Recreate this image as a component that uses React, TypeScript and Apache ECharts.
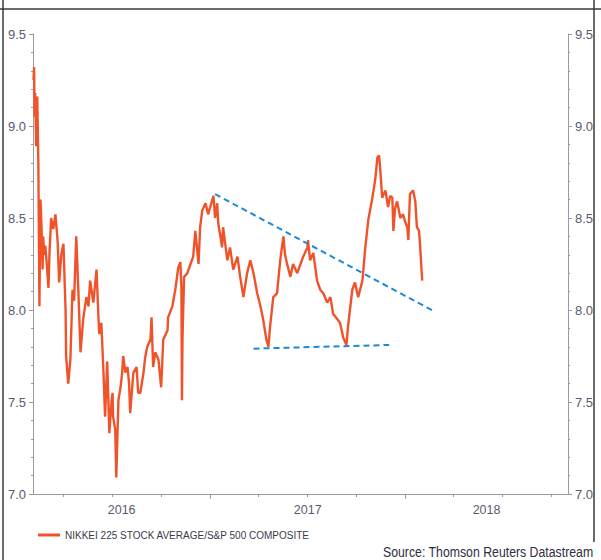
import React, { useEffect, useRef } from "react";
import * as echarts from "echarts";

const seriesName = "NIKKEI 225 STOCK AVERAGE/S&P 500 COMPOSITE";
const sourceText = "Source: Thomson Reuters Datastream";

const dates: string[] = [
  "2016-02-05","2016-02-06","2016-02-07","2016-02-08","2016-02-10","2016-02-12","2016-02-14","2016-02-16","2016-02-18","2016-02-20",
  "2016-02-22","2016-02-23","2016-02-25","2016-02-27","2016-02-29","2016-03-04","2016-03-06","2016-03-09","2016-03-13","2016-03-17",
  "2016-03-21","2016-03-24","2016-03-28","2016-04-01","2016-04-05","2016-04-06","2016-04-10","2016-04-14","2016-04-18","2016-04-21",
  "2016-04-25","2016-04-29","2016-05-03","2016-05-08","2016-05-14","2016-05-18","2016-05-21","2016-05-27","2016-06-02","2016-06-05",
  "2016-06-07","2016-06-11","2016-06-15","2016-06-18","2016-06-22","2016-06-26","2016-06-30","2016-07-02","2016-07-03","2016-07-07",
  "2016-07-09","2016-07-13","2016-07-17","2016-07-20","2016-07-22","2016-07-26","2016-07-30","2016-08-02","2016-08-04","2016-08-10",
  "2016-08-16","2016-08-19","2016-08-23","2016-08-29","2016-09-01","2016-09-05","2016-09-11","2016-09-13","2016-09-16","2016-09-20",
  "2016-09-26","2016-10-01","2016-10-05","2016-10-13","2016-10-14","2016-10-22","2016-10-28","2016-11-02","2016-11-06","2016-11-08",
  "2016-11-09","2016-11-10","2016-11-13","2016-11-19","2016-11-25","2016-11-30","2016-12-04","2016-12-10","2016-12-13","2016-12-17",
  "2016-12-23","2016-12-28","2017-01-01","2017-01-07","2017-01-10","2017-01-14","2017-01-16","2017-01-20","2017-01-23","2017-01-25",
  "2017-01-29","2017-02-02","2017-02-07","2017-02-13","2017-02-21","2017-02-26","2017-03-04","2017-03-11","2017-03-17","2017-03-23",
  "2017-03-30","2017-04-05","2017-04-10","2017-04-16","2017-04-20","2017-04-23","2017-04-29","2017-05-06","2017-05-12","2017-05-18",
  "2017-05-21","2017-05-25","2017-05-31","2017-06-05","2017-06-13","2017-06-19","2017-06-24","2017-07-02","2017-07-03","2017-07-07",
  "2017-07-13","2017-07-20","2017-07-26","2017-08-01","2017-08-08","2017-08-14","2017-08-19","2017-08-27","2017-09-01","2017-09-07",
  "2017-09-13","2017-09-16","2017-09-24","2017-09-29","2017-10-05","2017-10-13","2017-10-18","2017-10-24","2017-10-31","2017-11-06",
  "2017-11-10","2017-11-13","2017-11-15","2017-11-19","2017-11-25","2017-11-30","2017-12-04","2017-12-08","2017-12-10","2017-12-13",
  "2017-12-17","2017-12-23","2017-12-28","2018-01-01","2018-01-05","2018-01-07","2018-01-10","2018-01-16","2018-01-20","2018-01-23",
  "2018-01-27","2018-01-29","2018-01-31","2018-02-02"
];

const ratioValues: number[] = [
  9.25,9.32,9.05,9.18,8.89,9.16,8.80,8.02,8.60,8.45,
  8.22,8.40,8.30,8.35,8.28,8.12,8.32,8.50,8.44,8.52,
  8.38,8.15,8.30,8.36,8.00,7.75,7.60,7.73,8.11,8.05,
  8.40,8.10,7.77,7.95,8.07,8.02,8.16,8.04,8.22,8.00,
  7.87,7.93,7.66,7.42,7.72,7.33,7.50,7.55,7.42,7.35,
  7.09,7.51,7.58,7.66,7.75,7.66,7.69,7.60,7.44,7.66,
  7.69,7.55,7.55,7.66,7.74,7.80,7.84,7.96,7.69,7.77,
  7.73,7.58,7.84,7.89,7.96,8.02,8.12,8.23,8.26,8.12,
  7.51,7.85,8.18,8.20,8.25,8.29,8.43,8.25,8.45,8.54,
  8.58,8.52,8.56,8.62,8.50,8.58,8.47,8.40,8.34,8.45,
  8.36,8.27,8.34,8.22,8.29,8.18,8.07,8.20,8.27,8.20,
  8.09,8.02,7.95,7.84,7.80,7.91,8.07,8.09,8.27,8.40,
  8.30,8.25,8.18,8.25,8.20,8.25,8.29,8.34,8.38,8.27,
  8.31,8.16,8.11,8.09,8.04,8.07,7.98,7.95,7.93,7.85,
  7.81,7.91,8.11,8.15,8.07,8.16,8.33,8.49,8.60,8.71,
  8.83,8.84,8.78,8.61,8.65,8.56,8.62,8.61,8.43,8.55,
  8.59,8.50,8.52,8.48,8.45,8.38,8.63,8.65,8.59,8.45,
  8.43,8.35,8.25,8.16
];

const upperTrendDates: string[] = ["2017-01-10", "2018-02-26"];
const upperTrendValues: number[] = [8.63, 7.99];
const lowerTrendDates: string[] = ["2017-03-23", "2017-12-02"];
const lowerTrendValues: number[] = [7.79, 7.81];

const axisStart = "2016-02-04";
const axisEnd = "2018-11-02";
const yMin = 7.0;
const yMax = 9.5;
const yStep = 0.5;

const FONT = '"Liberation Sans", Arial, sans-serif';

function ts(s: string): number {
  const [y, m, d] = s.split("-").map(Number);
  return new Date(y, m - 1, d).getTime();
}

export default function App() {
  const ref = useRef<HTMLDivElement>(null);

  useEffect(() => {
    if (!ref.current) return;
    const chart = echarts.init(ref.current, undefined, { renderer: "svg" });

    const minT = ts(axisStart);
    const maxT = ts(axisEnd);
    const quarterTicks: number[] = [];
    const yearTicks: number[] = [];
    const labelPos: number[] = [];
    for (let y = 2016; y <= 2018; y++) {
      for (let q = 0; q < 4; q++) {
        const t = new Date(y, q * 3, 1).getTime();
        if (t > minT && t < maxT) quarterTicks.push(t);
        if (q === 0 && t > minT && t < maxT) yearTicks.push(t);
      }
      const ys = Math.max(new Date(y, 0, 1).getTime(), minT);
      const ye = Math.min(new Date(y + 1, 0, 1).getTime(), maxT);
      labelPos.push((ys + ye) / 2);
    }

    const mainData = dates.map((d, i) => [ts(d), ratioValues[i]]);
    const upData = upperTrendDates.map((d, i) => [ts(d), upperTrendValues[i]]);
    const lowData = lowerTrendDates.map((d, i) => [ts(d), lowerTrendValues[i]]);

    const axisColor = "#9a9aa2";
    const labelColor = "#5a5a6e";

    const yAxisBase = {
      type: "value",
      min: yMin,
      max: yMax,
      interval: yStep,
      axisLine: { show: true, lineStyle: { color: axisColor, width: 1 } },
      axisTick: { show: true, length: 4, lineStyle: { color: axisColor } },
      minorTick: { show: true, splitNumber: 5, length: 2, lineStyle: { color: axisColor } },
      splitLine: { show: false },
      axisLabel: {
        color: labelColor,
        fontFamily: FONT,
        fontSize: 13,
        margin: 7,
        formatter: (v: number) => v.toFixed(1),
      },
    };

    chart.setOption({
      animation: false,
      backgroundColor: "#ffffff",
      grid: { left: 33, right: 33, top: 34, bottom: 66, containLabel: false, outerBoundsMode: "none" },
      legend: {
        data: [seriesName],
        left: 33,
        top: 525,
        icon: "rect",
        itemWidth: 22,
        itemHeight: 3,
        itemGap: 5,
        textStyle: { fontFamily: FONT, fontSize: 10, color: "#3a3a4a" },
      },
      xAxis: [
        {
          type: "value",
          min: minT,
          max: maxT,
          axisLine: { show: true, lineStyle: { color: axisColor, width: 1 } },
          axisTick: { show: true, length: 3, customValues: quarterTicks, lineStyle: { color: axisColor } },
          axisLabel: {
            show: true,
            customValues: labelPos,
            color: labelColor,
            fontFamily: FONT,
            fontSize: 12.5,
            margin: 9,
            showMinLabel: true,
            showMaxLabel: true,
            formatter: (v: number) => String(new Date(v).getFullYear()),
          },
          splitLine: { show: false },
        },
        {
          type: "value",
          position: "bottom",
          min: minT,
          max: maxT,
          axisLine: { show: false },
          axisTick: { show: true, length: 5, customValues: yearTicks, lineStyle: { color: axisColor } },
          axisLabel: { show: false },
          splitLine: { show: false },
        },
      ],
      yAxis: [
        { ...yAxisBase, position: "left" },
        { ...yAxisBase, position: "right" },
      ],
      series: [
        {
          name: seriesName,
          type: "line",
          data: mainData,
          xAxisIndex: 0,
          yAxisIndex: 0,
          showSymbol: false,
          symbol: "none",
          lineStyle: { color: "#f0532a", width: 2.4 },
          itemStyle: { color: "#f0532a" },
          z: 2,
        },
        {
          name: "upper trend",
          type: "line",
          data: upData,
          symbol: "none",
          lineStyle: { color: "#1b8ad3", width: 2, type: [6, 4] },
          z: 3,
        },
        {
          name: "lower trend",
          type: "line",
          data: lowData,
          symbol: "none",
          lineStyle: { color: "#1b8ad3", width: 2, type: [6, 4] },
          z: 3,
        },
      ],
      graphic: [
        { type: "line", shape: { x1: 0, y1: 9, x2: 601, y2: 9 }, style: { stroke: "#3a3a3a", lineWidth: 1.5 } },
        { type: "line", shape: { x1: 3, y1: 0, x2: 3, y2: 560 }, style: { stroke: "#3a3a3a", lineWidth: 1.5 } },
        { type: "line", shape: { x1: 594, y1: 0, x2: 594, y2: 542 }, style: { stroke: "#3a3a3a", lineWidth: 1.5 } },
        {
          type: "text",
          x: 383,
          y: 552,
          scaleX: 0.82,
          style: {
            text: sourceText,
            fontFamily: FONT,
            fontSize: 15,
            fill: "#2e2e3e",
            textAlign: "left",
            textVerticalAlign: "middle",
          },
        },
      ],
    });

    return () => chart.dispose();
  }, []);

  return (
    <div
      ref={ref}
      style={{ position: "fixed", left: 0, top: 0, width: 601, height: 560, background: "#fff" }}
    />
  );
}
